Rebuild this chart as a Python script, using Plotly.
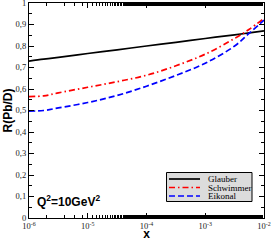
import plotly.graph_objects as go

# data (log10 x positions and R values)
log_x = [-6.0, -5.75, -5.5, -5.0, -4.5, -4.0, -3.5, -3.0, -2.5, -2.25, -2.0]
glauber = [0.730, 0.739, 0.747, 0.765, 0.782, 0.800, 0.817, 0.835, 0.852, 0.861, 0.870]
schwimmer = [0.565, 0.568, 0.582, 0.608, 0.634, 0.664, 0.708, 0.762, 0.835, 0.878, 0.928]
eikonal = [0.497, 0.500, 0.512, 0.537, 0.570, 0.613, 0.663, 0.720, 0.800, 0.860, 0.920]

x_tickvals = [1e-6, 1e-5, 1e-4, 1e-3, 1e-2]
x_ticktext = ["10<sup>-6</sup>", "10<sup>-5</sup>", "10<sup>-4</sup>", "10<sup>-3</sup>", "10<sup>-2</sup>"]
y_tickvals = [0, 0.1, 0.2, 0.3, 0.4, 0.5, 0.6, 0.7, 0.8, 0.9, 1.0]
y_ticktext = ["0", "0,1", "0,2", "0,3", "0,4", "0,5", "0,6", "0,7", "0,8", "0,9", "1"]

series_names = ["Glauber", "Schwimmer", "Eikonal"]
series_colors = ["black", "red", "blue"]
series_dash = ["solid", "6px,3px,1.5px,3px", "6px,3px"]

xs = [10 ** v for v in log_x]
fig = go.Figure()
for name, ys, col, dash in zip(series_names, [glauber, schwimmer, eikonal], series_colors, series_dash):
    fig.add_trace(go.Scatter(x=xs, y=ys, mode="lines", name=name,
                             line=dict(color=col, width=1.7, dash=dash, shape="spline"), showlegend=False))

W, H = 272, 241
L, R, T, B = 29, 8, 3, 23
pw, ph = W - L - R, H - T - B

def px_x(p):
    return (p - L) / pw

def px_y(p):
    return (H - B - p) / ph

tickfont = dict(family="Liberation Serif", size=8.5, color="#222")
fig.update_layout(
    width=W, height=H,
    margin=dict(l=L, r=R, t=T, b=B),
    paper_bgcolor="white", plot_bgcolor="white",
    xaxis=dict(type="log", range=[-6, -2], tickvals=x_tickvals, ticktext=x_ticktext,
               ticks="inside", ticklen=5, tickwidth=1, tickcolor="black",
               showline=True, linecolor="black", linewidth=1.3, mirror="allticks",
               showgrid=False, zeroline=False, tickfont=tickfont, automargin=False,
               ticklabeloverflow="allow",
               minor=dict(ticks="inside", ticklen=3, tickcolor="black", showgrid=False),
               title=dict(text="<b>x</b>", font=dict(family="Arial", size=12, color="black"), standoff=0)),
    yaxis=dict(range=[0, 1], tickvals=y_tickvals, ticktext=y_ticktext,
               ticks="inside", ticklen=5, tickwidth=1, tickcolor="black",
               showline=True, linecolor="black", linewidth=1.3, mirror="allticks",
               showgrid=False, zeroline=False, tickfont=tickfont, automargin=False,
               ticklabeloverflow="allow",
               minor=dict(dtick=0.05, ticks="inside", ticklen=3, tickcolor="black", showgrid=False),
               title=dict(text="<b>R(Pb/D)</b>", font=dict(family="Arial", size=12, color="black"), standoff=0)),
    showlegend=False,
)

# legend box drawn by hand
shapes = [dict(type="rect", xref="paper", yref="paper", x0=px_x(166.5), x1=px_x(252), y0=px_y(201.5), y1=px_y(172.5),
               fillcolor="#dcdcdc", line=dict(color="black", width=1))]
annotations = []
rows = [179, 187.5, 196]
for name, col, dash, ry in zip(series_names, series_colors, series_dash, rows):
    shapes.append(dict(type="line", xref="paper", yref="paper", x0=px_x(169), x1=px_x(200), y0=px_y(ry), y1=px_y(ry),
                       line=dict(color=col, width=1.7, dash=dash)))
    annotations.append(dict(xref="paper", yref="paper", x=px_x(207), y=px_y(ry), text=name, showarrow=False,
                            xanchor="left", yanchor="middle", borderpad=0,
                            font=dict(family="Liberation Serif", size=9, color="black")))
annotations.append(dict(xref="paper", yref="paper", x=px_x(35), y=px_y(201), text="<b>Q<sup>2</sup>=10GeV<sup>2</sup></b>",
                        showarrow=False, xanchor="left", yanchor="middle", font=dict(family="Arial", size=12, color="black")))
fig.update_layout(shapes=shapes, annotations=annotations)

fig.write_html("out.html", config={"displayModeBar": False},
               post_script="document.body.style.margin='0px';document.body.style.overflow='hidden';")
